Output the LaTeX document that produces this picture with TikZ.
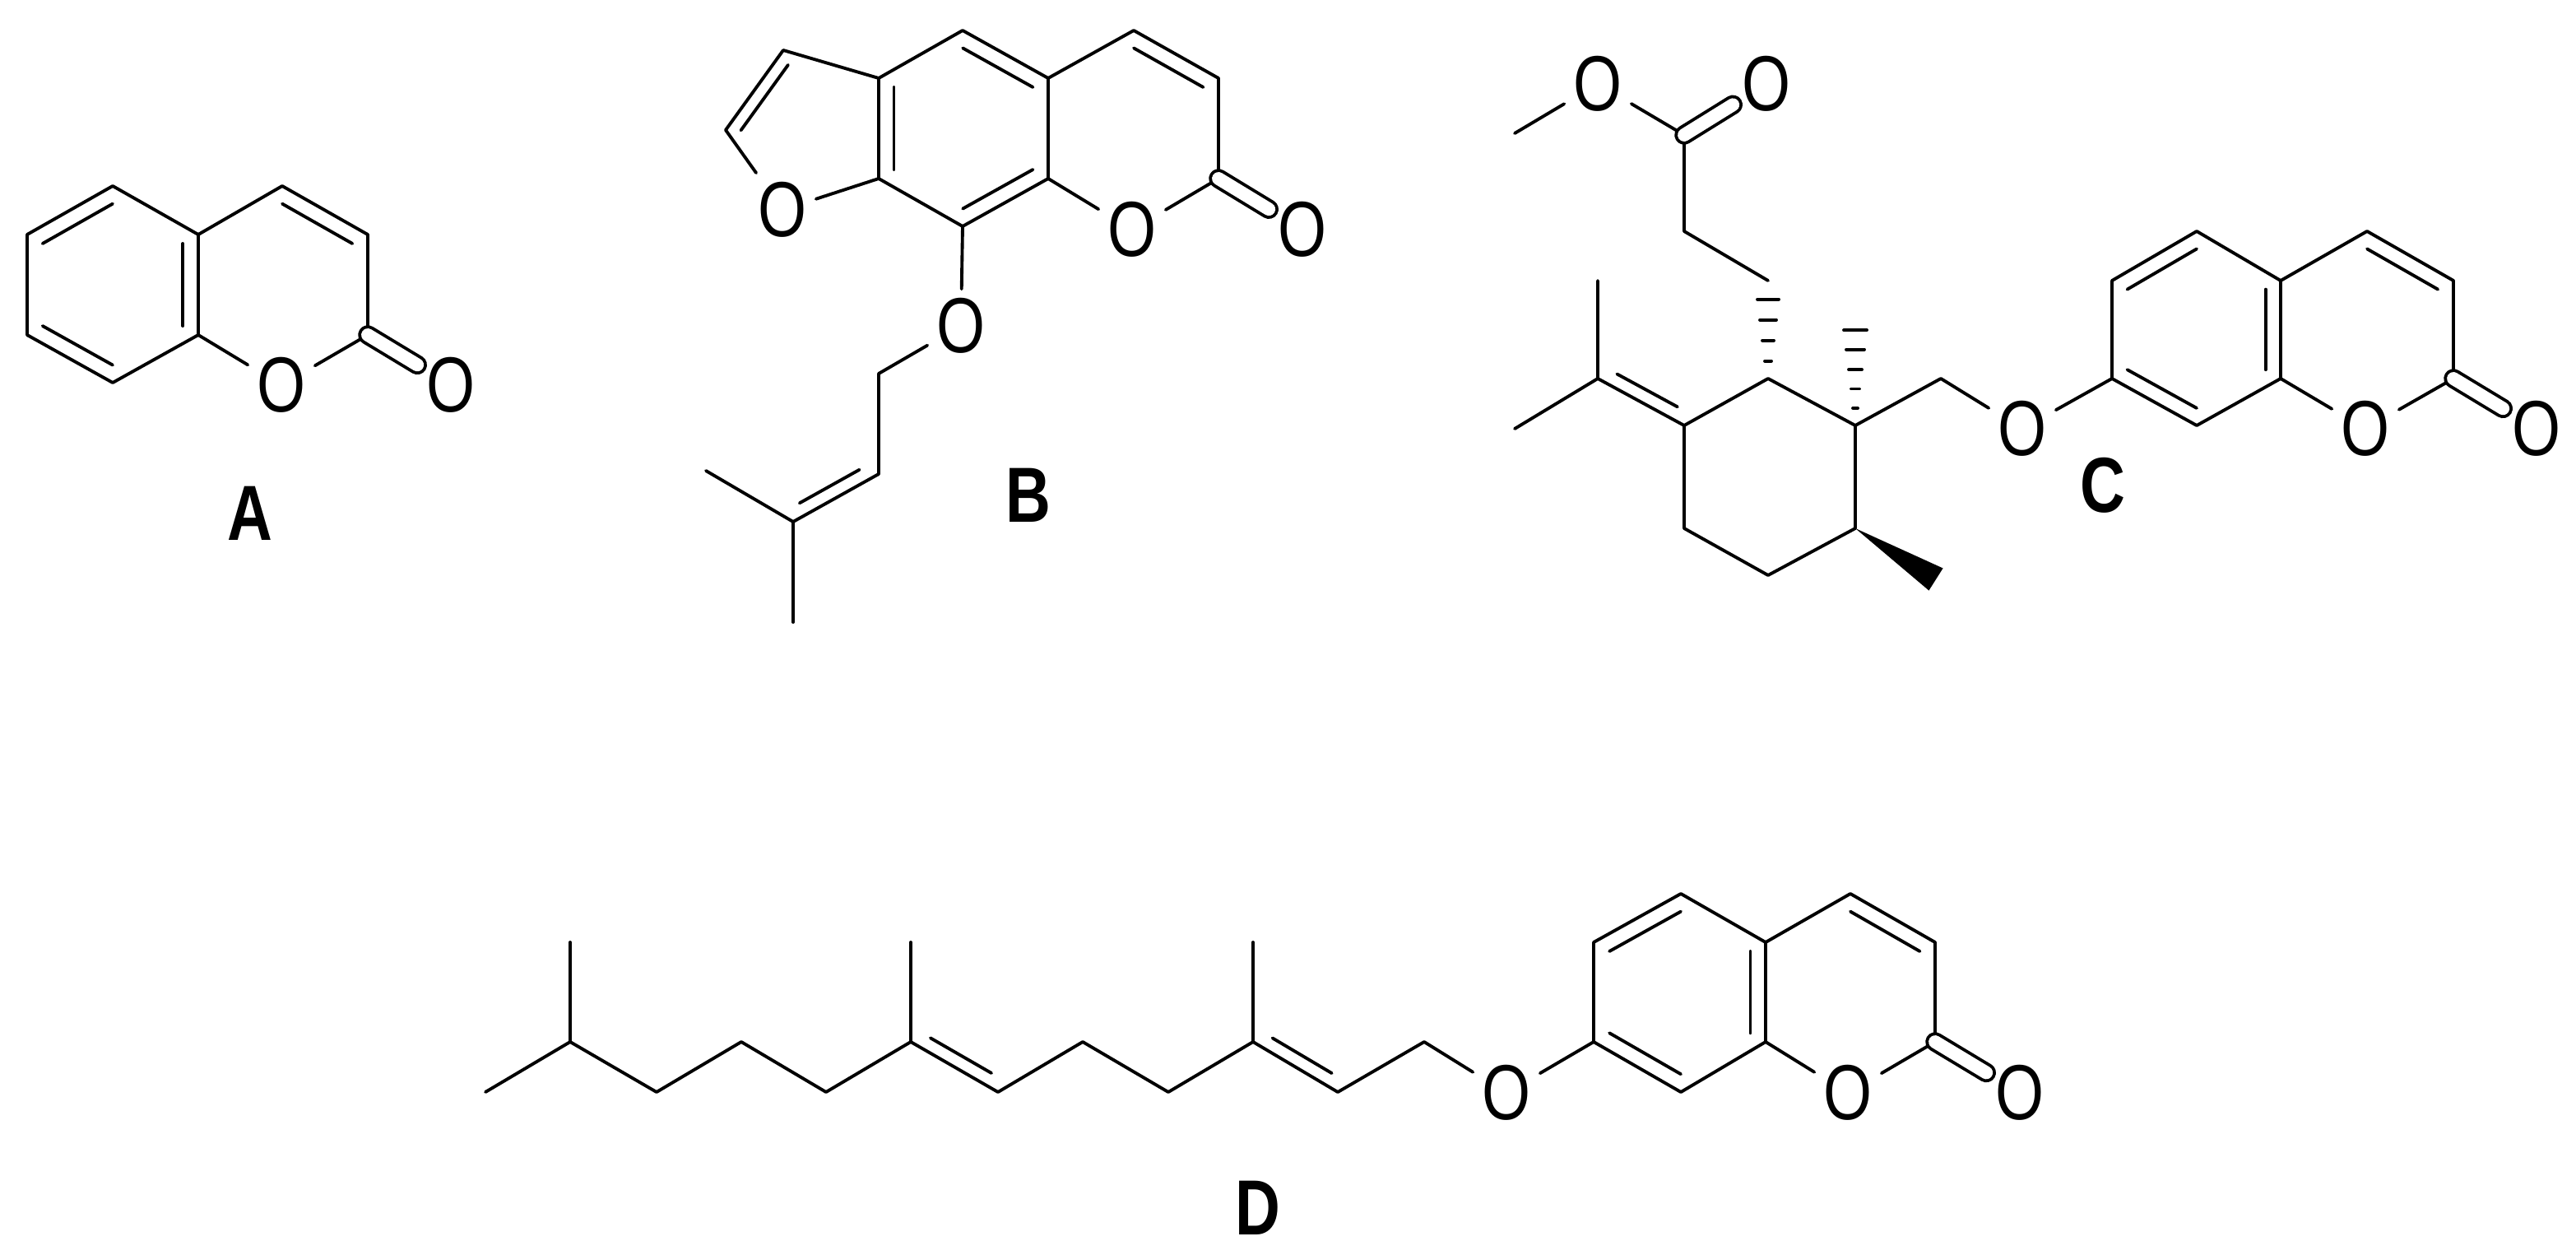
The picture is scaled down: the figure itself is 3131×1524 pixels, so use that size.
\documentclass[tikz,border=0pt]{standalone}
\usepackage{fontspec}
\setmainfont{Liberation Sans}
\usetikzlibrary{calc}
\newcommand\Ox{\scalebox{0.8}[1]{O}}
\newcommand\inr[3]{\draw[bd] ($(#1)!0.18!(#3)$) -- ($(#2)!0.18!(#3)$);}
\newcommand\ofs[3]{\draw[bd] ($ ($(#1)!0.15!(#2)$)!0.16cm!#3:(#2) $) -- ($ ($(#2)!0.15!(#1)$)!0.16cm!-#3:(#1) $);}
\newcommand\hashb[2]{\foreach \t/\w in {0.18/4,0.39/7,0.6/10,0.81/13}{\draw[bd] ($(#1)!\t!(#2)+(-\w,0)$) -- ($(#1)!\t!(#2)+(\w,0)$);}}
\newcommand\hashc[2]{\foreach \t/\w in {0.18/3,0.38/5,0.58/8,0.79/11,0.99/14}{\draw[bd] ($(#1)!\t!(#2)+(-\w,0)$) -- ($(#1)!\t!(#2)+(\w,0)$);}}
\tikzset{bd/.style={line width=1.1pt,line cap=round,line join=round},
 atom/.style={inner sep=3pt,font=\fontsize{27}{30}\selectfont},
 lab/.style={inner sep=0pt,font=\fontsize{27}{30}\selectfont\bfseries},
 dbo/.style={bd,double,double distance=4.5pt}}
\begin{document}
\begin{tikzpicture}[x=0.01cm,y=-0.01cm]
\useasboundingbox (0,0) rectangle (3131,1524);
% ---------- A
\coordinate (a1) at (137,226); \coordinate (a2) at (33,285); \coordinate (a3) at (33,407);
\coordinate (a4) at (137,465); \coordinate (a5) at (241,407); \coordinate (a6) at (241,285);
\coordinate (a7) at (343,226); \coordinate (a8) at (447,285); \coordinate (a9) at (447,407);
\coordinate (ac1) at (137,346); \coordinate (ac2) at (343,346);
\node[atom] (aO1) at (342,468) {\Ox}; \node[atom] (aO2) at (548,468) {\Ox};
\draw[bd] (a1) -- (a2) -- (a3) -- (a4) -- (a5) -- (a6) -- cycle;
\draw[bd] (a6) -- (a7) -- (a8) -- (a9) -- (aO1) -- (a5);
\draw[dbo] (a9) -- (aO2);
\inr{a1}{a2}{ac1} \inr{a3}{a4}{ac1} \inr{a5}{a6}{ac1} \inr{a7}{a8}{ac2}
\node[lab] (LA) at (304,624) {\scalebox{0.8}[1]{A}};
% ---------- B
\coordinate (b3f) at (952,61); \coordinate (b2f) at (882,158); \coordinate (b7a) at (1068,217);
\coordinate (b3a) at (1068,95); \coordinate (b4) at (1170,37); \coordinate (b4a) at (1274,95);
\coordinate (b8a) at (1274,217); \coordinate (b8) at (1170,275); \coordinate (b5) at (1378,37);
\coordinate (b6) at (1481,95); \coordinate (b7) at (1481,217);
\coordinate (bch2) at (1068,454); \coordinate (bch) at (1068,576); \coordinate (bcq) at (964,634);
\coordinate (bme1) at (858,572); \coordinate (bme2) at (964,756);
\coordinate (bcf) at (985,160); \coordinate (bcb) at (1171,156); \coordinate (bcp) at (1378,156);
\node[atom] (bOf) at (951,255) {\Ox}; \node[atom] (bOr) at (1376,279) {\Ox};
\node[atom] (bOc) at (1583,279) {\Ox}; \node[atom] (bOe) at (1168,396) {\Ox};
\draw[bd] (b3a) -- (b3f) -- (b2f) -- (bOf) -- (b7a) -- (b3a) -- (b4) -- (b4a) -- (b8a) -- (b8) -- (b7a);
\draw[bd] (b4a) -- (b5) -- (b6) -- (b7) -- (bOr) -- (b8a);
\draw[dbo] (b7) -- (bOc);
\draw[bd] (b8) -- (bOe) -- (bch2) -- (bch) -- (bcq) -- (bme1);
\draw[bd] (bcq) -- (bme2);
\inr{b3f}{b2f}{bcf} \inr{b3a}{b7a}{bcb} \inr{b4}{b4a}{bcb} \inr{b8}{b8a}{bcb} \inr{b5}{b6}{bcp}
\ofs{bcq}{bch}{90}
\node[lab] (LB) at (1250,602) {\scalebox{0.8}[1]{B}};
% ---------- C
\coordinate (cme) at (1841,162); \coordinate (ccc) at (2047,164); \coordinate (cca) at (2047,281);
\coordinate (ccb) at (2149,341); \coordinate (r1) at (2149,460); \coordinate (r2) at (2255,517);
\coordinate (r3) at (2255,642); \coordinate (r4) at (2149,699); \coordinate (r5) at (2047,642);
\coordinate (r6) at (2047,517); \coordinate (ci) at (1942,460); \coordinate (miu) at (1942,341);
\coordinate (mil) at (1841,521); \coordinate (hme) at (2255,400); \coordinate (wme) at (2353,704);
\coordinate (cch2) at (2359,460);
\coordinate (c7) at (2567,460); \coordinate (c8) at (2670,517); \coordinate (c8a) at (2772,460);
\coordinate (c4a) at (2772,341); \coordinate (c5) at (2670,281); \coordinate (c6) at (2567,341);
\coordinate (c4) at (2877,281); \coordinate (c3) at (2982,341); \coordinate (c2) at (2982,460);
\coordinate (ccb1) at (2670,400); \coordinate (ccp1) at (2877,400);
\node[atom] (cOe) at (1942,102) {\Ox}; \node[atom] (cOc) at (2147,102) {\Ox};
\node[atom] (cOeth) at (2458,521) {\Ox}; \node[atom] (cO1) at (2875,521) {\Ox};
\node[atom] (cOk) at (3083,521) {\Ox};
\draw[bd] (cme) -- (cOe) -- (ccc) -- (cca) -- (ccb);
\draw[dbo] (ccc) -- (cOc);
\hashb{r1}{ccb}
\draw[bd] (r1) -- (r2) -- (r3) -- (r4) -- (r5) -- (r6) -- cycle;
\draw[bd] (r6) -- (ci) -- (miu); \draw[bd] (ci) -- (mil);
\ofs{ci}{r6}{90}
\hashc{r2}{hme}
\fill (r3) -- ($(wme)!0.16cm!90:(r3)$) -- ($(wme)!0.16cm!-90:(r3)$) -- cycle;
\draw[bd] (r2) -- (cch2) -- (cOeth) -- (c7);
\draw[bd] (c7) -- (c8) -- (c8a) -- (c4a) -- (c5) -- (c6) -- cycle;
\draw[bd] (c4a) -- (c4) -- (c3) -- (c2) -- (cO1) -- (c8a);
\draw[dbo] (c2) -- (cOk);
\inr{c5}{c6}{ccb1} \inr{c4a}{c8a}{ccb1} \inr{c7}{c8}{ccb1} \inr{c3}{c4}{ccp1}
\node[lab] (LC) at (2556,590) {\scalebox{0.8}[1]{C}};
% ---------- D
\coordinate (p0) at (590,1327); \coordinate (p1) at (693,1266); \coordinate (p2) at (798,1327);
\coordinate (p3) at (901,1266); \coordinate (p4) at (1004,1327); \coordinate (p5) at (1107,1266);
\coordinate (p6) at (1213,1327); \coordinate (p7) at (1316,1266); \coordinate (p8) at (1420,1327);
\coordinate (p9) at (1523,1266); \coordinate (p10) at (1626,1327); \coordinate (p11) at (1731,1266);
\coordinate (m1) at (693,1145); \coordinate (m5) at (1107,1145); \coordinate (m9) at (1523,1145);
\coordinate (d7) at (1937,1266); \coordinate (d6) at (1937,1145); \coordinate (d5) at (2043,1086);
\coordinate (d4a) at (2146,1145); \coordinate (d8a) at (2146,1266); \coordinate (d8) at (2043,1327);
\coordinate (d4) at (2249,1086); \coordinate (d3) at (2352,1145); \coordinate (d2) at (2352,1266);
\coordinate (dcb) at (2043,1206); \coordinate (dcp) at (2249,1206);
\node[atom] (dOe) at (1831,1328) {\Ox}; \node[atom] (dO1) at (2246,1328) {\Ox};
\node[atom] (dOk) at (2455,1328) {\Ox};
\draw[bd] (p0) -- (p1) -- (p2) -- (p3) -- (p4) -- (p5) -- (p6) -- (p7) -- (p8) -- (p9) -- (p10) -- (p11) -- (dOe) -- (d7);
\draw[bd] (p1) -- (m1); \draw[bd] (p5) -- (m5); \draw[bd] (p9) -- (m9);
\ofs{p5}{p6}{90} \ofs{p9}{p10}{90}
\draw[bd] (d7) -- (d6) -- (d5) -- (d4a) -- (d8a) -- (d8) -- cycle;
\draw[bd] (d4a) -- (d4) -- (d3) -- (d2) -- (dO1) -- (d8a);
\draw[dbo] (d2) -- (dOk);
\inr{d6}{d5}{dcb} \inr{d4a}{d8a}{dcb} \inr{d7}{d8}{dcb} \inr{d3}{d4}{dcp}
\node[lab] (LD) at (1529,1468) {\scalebox{0.8}[1]{D}};
\end{tikzpicture}
\end{document}
